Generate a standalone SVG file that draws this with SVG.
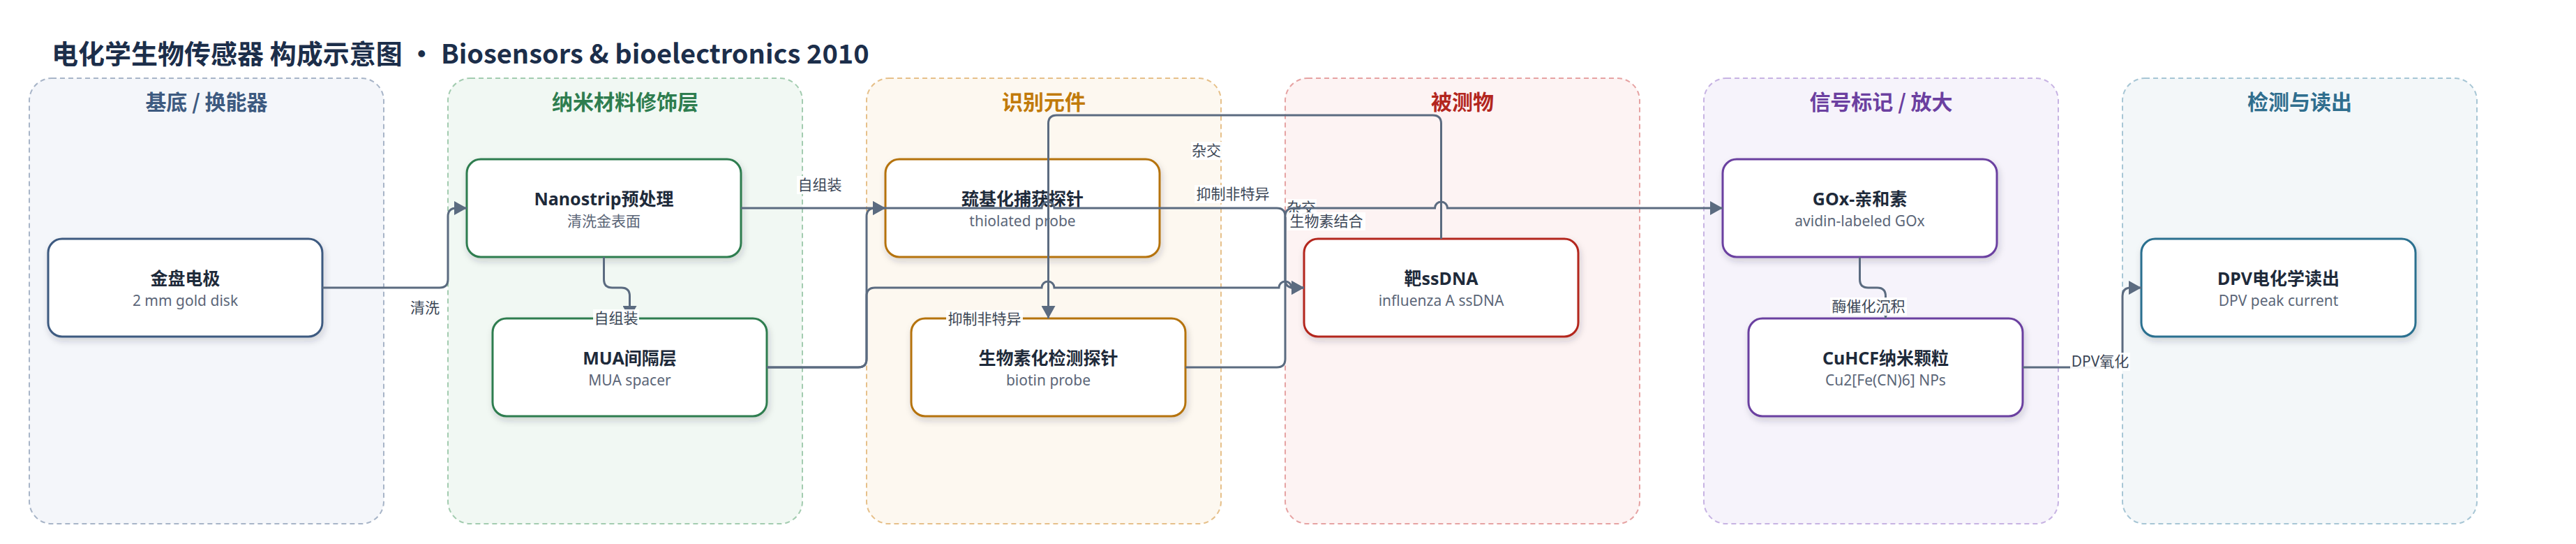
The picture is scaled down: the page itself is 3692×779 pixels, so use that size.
<svg xmlns="http://www.w3.org/2000/svg" width="3692" height="779" viewBox="0 0 3692 779">
<defs>
<style>
.cl{stroke-width:2;stroke-dasharray:7 5}
.ct{font-family:"Noto Sans CJK SC","Noto Sans",sans-serif;font-size:30px;font-weight:700;text-anchor:middle}
.nd{fill:#fff;stroke-width:3}
.nt{font-family:"Noto Sans","Noto Sans CJK SC",sans-serif;font-size:25px;font-weight:700;fill:#1e2a3a;text-anchor:middle}
.ns{font-family:"Noto Sans","Noto Sans CJK SC",sans-serif;font-size:21px;fill:#5b6678;text-anchor:middle}
.e{fill:none;stroke:#5b6b80;stroke-width:3}
.ea{fill:none;stroke:#5b6b80;stroke-width:3;marker-end:url(#ah)}
.lb{fill:#fff;opacity:0.92}
.lt{font-family:"Noto Sans","Noto Sans CJK SC",sans-serif;font-size:21px;fill:#3b4656;text-anchor:middle}
</style>
<marker id="ah" markerUnits="userSpaceOnUse" markerWidth="20" markerHeight="20" refX="18" refY="10" orient="auto">
<path d="M0,0 L18,10 L0,20 Z" fill="#5b6b80"/>
</marker>
<filter id="sh" x="-10%" y="-20%" width="120%" height="150%">
<feDropShadow dx="2" dy="5" stdDeviation="5" flood-color="#1e2a3a" flood-opacity="0.18"/>
</filter>
</defs>
<rect width="3692" height="779" fill="#fff"/>
<text x="74" y="91" font-family="Noto Sans CJK SC, sans-serif" font-size="38" font-weight="700" fill="#1c2e4a">电化学生物传感器 构成示意图 · Biosensors &amp; bioelectronics 2010</text>

<g id="clusters">
<g id="c1"><rect class="cl" x="42" y="112" width="508" height="638" rx="32" fill="#f4f6fa" stroke="#a8b5c8"/><text class="ct" x="296" y="157" fill="#3d5a80">基底 / 换能器</text></g>
<g id="c2"><rect class="cl" x="642" y="112" width="508" height="638" rx="32" fill="#f1f8f3" stroke="#a3ccb0"/><text class="ct" x="896" y="157" fill="#2e7d4f">纳米材料修饰层</text></g>
<g id="c3"><rect class="cl" x="1242" y="112" width="508" height="638" rx="32" fill="#fdf8f0" stroke="#e6c08a"/><text class="ct" x="1496" y="157" fill="#c17a0a">识别元件</text></g>
<g id="c4"><rect class="cl" x="1842" y="112" width="508" height="638" rx="32" fill="#fdf3f3" stroke="#e6a3a3"/><text class="ct" x="2096" y="157" fill="#b3261e">被测物</text></g>
<g id="c5"><rect class="cl" x="2442" y="112" width="508" height="638" rx="32" fill="#f6f3fb" stroke="#c7b3e3"/><text class="ct" x="2696" y="157" fill="#6b3fa0">信号标记 / 放大</text></g>
<g id="c6"><rect class="cl" x="3042" y="112" width="508" height="638" rx="32" fill="#f3f7f9" stroke="#a7c6d5"/><text class="ct" x="3296" y="157" fill="#2f6e8e">检测与读出</text></g>
</g>

<g id="nodes">
<g id="n-gold"><rect class="nd" filter="url(#sh)" x="69" y="342" width="393" height="140" rx="20" stroke="#3d5a80"/><text class="nt" x="265.5" y="408">金盘电极</text><text class="ns" x="265.5" y="438">2 mm gold disk</text></g>
<g id="n-nano"><rect class="nd" filter="url(#sh)" x="669" y="228" width="393" height="140" rx="20" stroke="#2e7d4f"/><text class="nt" x="865.5" y="294">Nanostrip预处理</text><text class="ns" x="865.5" y="324">清洗金表面</text></g>
<g id="n-mua"><rect class="nd" filter="url(#sh)" x="706" y="456" width="393" height="140" rx="20" stroke="#2e7d4f"/><text class="nt" x="902.5" y="522">MUA间隔层</text><text class="ns" x="902.5" y="552">MUA spacer</text></g>
<g id="n-thiol"><rect class="nd" filter="url(#sh)" x="1269" y="228" width="393" height="140" rx="20" stroke="#b5730c"/><text class="nt" x="1465.5" y="294">巯基化捕获探针</text><text class="ns" x="1465.5" y="324">thiolated probe</text></g>
<g id="n-biotin"><rect class="nd" filter="url(#sh)" x="1306" y="456" width="393" height="140" rx="20" stroke="#b5730c"/><text class="nt" x="1502.5" y="522">生物素化检测探针</text><text class="ns" x="1502.5" y="552">biotin probe</text></g>
<g id="n-target"><rect class="nd" filter="url(#sh)" x="1869" y="342" width="393" height="140" rx="20" stroke="#b3261e"/><text class="nt" x="2065.5" y="408">靶ssDNA</text><text class="ns" x="2065.5" y="438">influenza A ssDNA</text></g>
<g id="n-gox"><rect class="nd" filter="url(#sh)" x="2469" y="228" width="393" height="140" rx="20" stroke="#6b3fa0"/><text class="nt" x="2665.5" y="294">GOx-亲和素</text><text class="ns" x="2665.5" y="324">avidin-labeled GOx</text></g>
<g id="n-cuhcf"><rect class="nd" filter="url(#sh)" x="2506" y="456" width="393" height="140" rx="20" stroke="#6b3fa0"/><text class="nt" x="2702.5" y="522">CuHCF纳米颗粒</text><text class="ns" x="2702.5" y="552">Cu2[Fe(CN)6] NPs</text></g>
<g id="n-dpv"><rect class="nd" filter="url(#sh)" x="3069" y="342" width="393" height="140" rx="20" stroke="#2a6f8f"/><text class="nt" x="3265.5" y="408">DPV电化学读出</text><text class="ns" x="3265.5" y="438">DPV peak current</text></g>
</g>

<g id="connectors">
<path class="ea" d="M462,412 H630 Q642,412 642,400 V310 Q642,298 654,298 H669"/>
<text class="lt" x="609" y="448">清洗</text>
<path class="ea" d="M865.5,368 V400 Q865.5,412 877.5,412 H890.5 Q902.5,412 902.5,424 V456"/>
<rect class="lb" x="850" y="443" width="66" height="26"/><text class="lt" x="883" y="463">自组装</text>
<path class="ea" d="M1062,298 H1269"/>
<rect class="lb" x="1142" y="252" width="66" height="26"/><text class="lt" x="1175" y="272">自组装</text>
<path class="ea" d="M1099,526 H1230 Q1242,526 1242,514 V310 Q1242,298 1254,298 H1269"/>
<rect class="lb" x="1356" y="444" width="110" height="26"/><text class="lt" x="1411" y="464">抑制非特异</text>
<path class="ea" d="M1099,526 H1230 Q1242,526 1242,514 V424 Q1242,412 1254,412 H1493 A9,9 0 0 1 1511,412 H1833 A9,9 0 0 1 1851,412 H1869"/>
<rect class="lb" x="1712" y="265" width="110" height="26"/><text class="lt" x="1767" y="285">抑制非特异</text>
<path class="ea" d="M2065.5,342 V177 Q2065.5,165 2053.5,165 H1514.5 Q1502.5,165 1502.5,177 V456"/>
<rect class="lb" x="1707" y="203" width="44" height="26"/><text class="lt" x="1729" y="223">杂交</text>
<path class="ea" d="M1269,298 H1493 A9,9 0 0 1 1511,298 H1830 Q1842,298 1842,310 V400 Q1842,412 1854,412 H1869"/>
<rect class="lb" x="1843" y="285" width="44" height="26"/><text class="lt" x="1865" y="305">杂交</text>
<path class="ea" d="M1699,526 H1830 Q1842,526 1842,514 V310 Q1842,298 1854,298 H2056.5 A9,9 0 0 1 2074.5,298 H2469"/>
<rect class="lb" x="1845" y="304" width="112" height="26"/><text class="lt" x="1901" y="324">生物素结合</text>
<path class="ea" d="M2665.5,368 V400 Q2665.5,412 2677.5,412 H2690.5 Q2702.5,412 2702.5,424 V456"/>
<rect class="lb" x="2623" y="426" width="110" height="26"/><text class="lt" x="2678" y="446">酶催化沉积</text>
<path class="ea" d="M2899,526 H3030 Q3042,526 3042,514 V424 Q3042,412 3054,412 H3069"/>
<rect class="lb" x="2967" y="505" width="86" height="26"/><text class="lt" x="3010" y="525">DPV氧化</text>
</g>
</svg>
